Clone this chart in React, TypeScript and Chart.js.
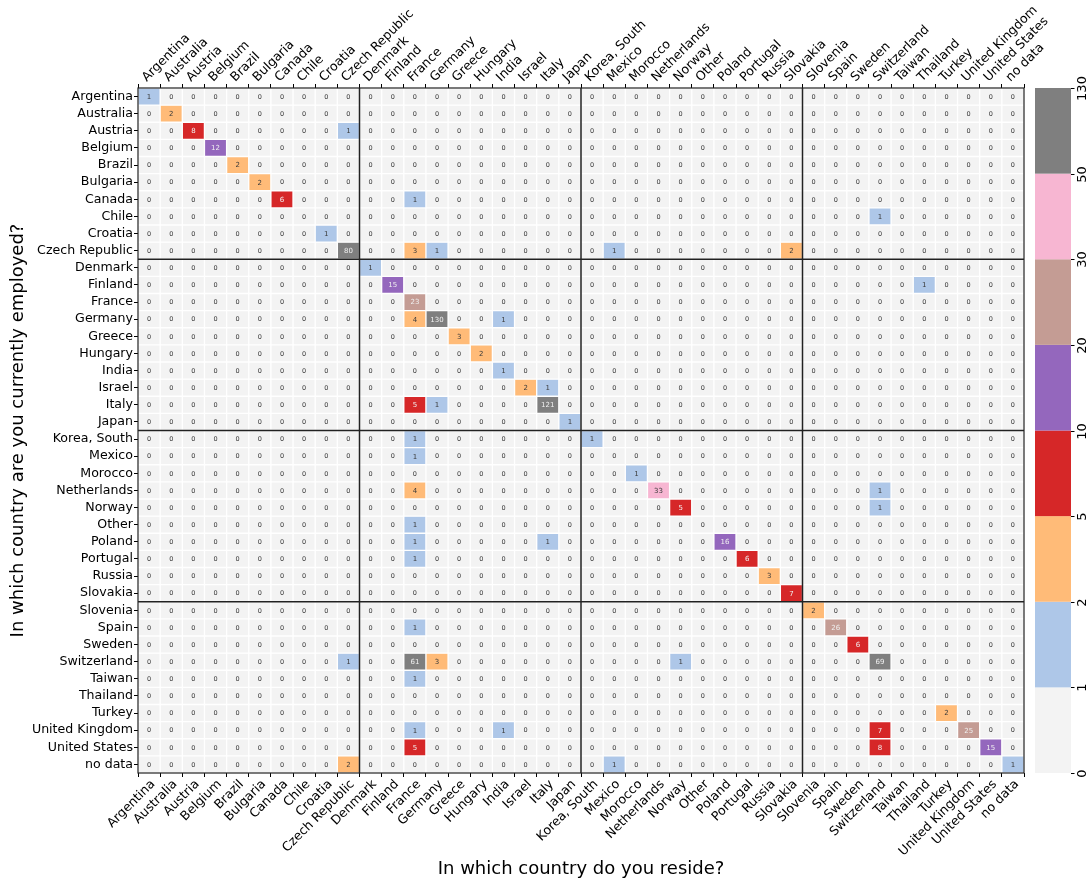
import React, { useEffect, useRef } from 'react';
import { Chart, registerables } from 'chart.js';
Chart.register(...registerables);

const countries = [
  'Argentina', 'Australia', 'Austria', 'Belgium', 'Brazil', 'Bulgaria', 'Canada', 'Chile', 'Croatia', 'Czech Republic',
  'Denmark', 'Finland', 'France', 'Germany', 'Greece', 'Hungary', 'India', 'Israel', 'Italy', 'Japan',
  'Korea, South', 'Mexico', 'Morocco', 'Netherlands', 'Norway', 'Other', 'Poland', 'Portugal', 'Russia', 'Slovakia',
  'Slovenia', 'Spain', 'Sweden', 'Switzerland', 'Taiwan', 'Thailand', 'Turkey', 'United Kingdom', 'United States', 'no data',
];

// Non-zero cells: employed-in country (row), reside-in country (column), count
const employedIn = [
  'Argentina', 'Australia', 'Austria', 'Austria', 'Belgium', 'Brazil', 'Bulgaria', 'Canada', 'Canada', 'Chile',
  'Croatia', 'Czech Republic', 'Czech Republic', 'Czech Republic', 'Czech Republic', 'Czech Republic', 'Denmark', 'Finland', 'Finland', 'France',
  'Germany', 'Germany', 'Germany', 'Greece', 'Hungary', 'India', 'Israel', 'Israel', 'Italy', 'Italy',
  'Italy', 'Japan', 'Korea, South', 'Korea, South', 'Mexico', 'Morocco', 'Netherlands', 'Netherlands', 'Netherlands', 'Norway',
  'Norway', 'Other', 'Poland', 'Poland', 'Poland', 'Portugal', 'Portugal', 'Russia', 'Slovakia', 'Slovenia',
  'Spain', 'Spain', 'Sweden', 'Switzerland', 'Switzerland', 'Switzerland', 'Switzerland', 'Switzerland', 'Taiwan', 'Turkey',
  'United Kingdom', 'United Kingdom', 'United Kingdom', 'United Kingdom', 'United States', 'United States', 'United States', 'no data', 'no data', 'no data',
];
const residesIn = [
  'Argentina', 'Australia', 'Austria', 'Czech Republic', 'Belgium', 'Brazil', 'Bulgaria', 'Canada', 'France', 'Switzerland',
  'Croatia', 'Czech Republic', 'France', 'Germany', 'Mexico', 'Slovakia', 'Denmark', 'Finland', 'Thailand', 'France',
  'France', 'Germany', 'India', 'Greece', 'Hungary', 'India', 'Israel', 'Italy', 'France', 'Germany',
  'Italy', 'Japan', 'Korea, South', 'France', 'France', 'Morocco', 'France', 'Netherlands', 'Switzerland', 'Norway',
  'Switzerland', 'France', 'France', 'Italy', 'Poland', 'France', 'Portugal', 'Russia', 'Slovakia', 'Slovenia',
  'France', 'Spain', 'Sweden', 'Czech Republic', 'France', 'Germany', 'Norway', 'Switzerland', 'France', 'Turkey',
  'France', 'India', 'Switzerland', 'United Kingdom', 'France', 'Switzerland', 'United States', 'Czech Republic', 'Mexico', 'no data',
];
const counts = [
  1, 2, 8, 1, 12, 2, 2, 6, 1, 1,
  1, 80, 3, 1, 1, 2, 1, 15, 1, 23,
  4, 130, 1, 3, 2, 1, 2, 1, 5, 1,
  121, 1, 1, 1, 1, 1, 4, 33, 1, 5,
  1, 1, 1, 1, 16, 1, 6, 3, 7, 2,
  1, 26, 6, 1, 61, 3, 1, 69, 1, 2,
  1, 1, 7, 25, 5, 8, 15, 2, 1, 1,
];

const binEdges = [0, 1, 2, 5, 10, 20, 30, 50, 130];
const binTickLabels = ['0', '1', '2', '5', '10', '20', '30', '50', '130'];
const binColors = ['#f3f3f3', '#aec7e8', '#ffbb78', '#d62728', '#9467bd', '#c49c94', '#f7b6d2', '#7f7f7f'];
const binTextLight = [false, false, false, true, true, true, false, true];

const FONT = "'DejaVu Sans', sans-serif";

function binIndex(v: number): number {
  let idx = 0;
  for (let i = 0; i < binColors.length; i++) {
    if (v >= binEdges[i]) idx = i;
  }
  return idx;
}

function buildMatrix(): number[][] {
  const m = countries.map(() => countries.map(() => 0));
  for (let k = 0; k < counts.length; k++) {
    const r = countries.indexOf(employedIn[k]);
    const c = countries.indexOf(residesIn[k]);
    m[r][c] = counts[k];
  }
  return m;
}

export default function App() {
  const ref = useRef<HTMLCanvasElement | null>(null);

  useEffect(() => {
    if (!ref.current) return;
    const matrix = buildMatrix();

    const datasets = countries.map((_, r) => ({
      label: countries[r],
      data: countries.map(() => [r - 0.5, r + 0.5]),
      backgroundColor: countries.map((_, c) => binColors[binIndex(matrix[r][c])]),
      borderColor: '#ffffff',
      borderWidth: 1,
      borderSkipped: false,
      grouped: false,
      categoryPercentage: 1,
      barPercentage: 1,
      xAxisID: 'x',
      yAxisID: 'y',
    }));

    const cellText = {
      id: 'cellText',
      afterDatasetsDraw(chart: any) {
        const { ctx, chartArea } = chart;
        const xs = chart.scales.x;
        const ys = chart.scales.y;
        ctx.save();
        ctx.textAlign = 'center';
        ctx.textBaseline = 'middle';
        for (let r = 0; r < countries.length; r++) {
          for (let c = 0; c < countries.length; c++) {
            const v = matrix[r][c];
            const b = binIndex(v);
            ctx.fillStyle = binTextLight[b] ? '#f0f0f0' : '#3a3a3a';
            ctx.font = `${v === 0 ? 6.5 : 7}px ${FONT}`;
            ctx.fillText(String(v), xs.getPixelForValue(c), ys.getPixelForValue(r) + 0.5);
          }
        }
        // group dividers
        ctx.strokeStyle = '#222';
        ctx.lineWidth = 1.5;
        for (const k of [10, 20, 30]) {
          const x = (xs.getPixelForValue(k - 1) + xs.getPixelForValue(k)) / 2;
          ctx.beginPath();
          ctx.moveTo(x, chartArea.top);
          ctx.lineTo(x, chartArea.bottom);
          ctx.stroke();
          const y = ys.getPixelForValue(k - 0.5);
          ctx.beginPath();
          ctx.moveTo(chartArea.left, y);
          ctx.lineTo(chartArea.right, y);
          ctx.stroke();
        }
        ctx.lineWidth = 1.2;
        ctx.strokeRect(chartArea.left, chartArea.top, chartArea.right - chartArea.left, chartArea.bottom - chartArea.top);
        ctx.restore();
      },
    };

    const colorBar = {
      id: 'colorBar',
      afterDraw(chart: any) {
        const { ctx, chartArea } = chart;
        const x0 = chartArea.right + 11;
        const w = 36;
        const top = chartArea.top;
        const bottom = chartArea.bottom;
        const n = binColors.length;
        const h = (bottom - top) / n;
        ctx.save();
        for (let i = 0; i < n; i++) {
          ctx.fillStyle = binColors[i];
          ctx.fillRect(x0, bottom - (i + 1) * h, w, h);
        }
        ctx.strokeStyle = '#000';
        ctx.lineWidth = 1;
        ctx.fillStyle = '#000';
        ctx.font = `13px ${FONT}`;
        ctx.textAlign = 'center';
        ctx.textBaseline = 'middle';
        for (let j = 0; j <= n; j++) {
          const y = Math.round(bottom - j * h) + 0.5;
          ctx.beginPath();
          ctx.moveTo(x0 + w, y);
          ctx.lineTo(x0 + w + 3.5, y);
          ctx.stroke();
          ctx.save();
          ctx.translate(x0 + w + 12, y);
          ctx.rotate(-Math.PI / 2);
          ctx.fillText(binTickLabels[j], 0, 0);
          ctx.restore();
        }
        ctx.restore();
      },
    };

    const tickFont = { family: FONT, size: 12.6 };
    const gridOpts = { display: true, drawOnChartArea: false, drawTicks: true, tickLength: 4, color: '#000' };

    const chart = new Chart(ref.current, {
      type: 'bar',
      data: { labels: countries, datasets: datasets as any },
      options: {
        animation: false,
        responsive: false,
        maintainAspectRatio: false,
        layout: { padding: { left: 0, right: 65, top: 0, bottom: 0 } },
        plugins: { legend: { display: false }, tooltip: { enabled: false } },
        scales: {
          x: {
            type: 'category',
            position: 'bottom',
            offset: true,
            grid: gridOpts,
            border: { display: false },
            ticks: { autoSkip: false, minRotation: 45, maxRotation: 45, color: '#000', font: tickFont, padding: 0, labelOffset: 4 },
            title: { display: true, text: 'In which country do you reside?', color: '#000', font: { family: FONT, size: 18 }, padding: { top: 0, bottom: 4 } },
            afterFit: (s: any) => { s.height = 111; },
          },
          x2: {
            type: 'category',
            position: 'top',
            labels: countries,
            offset: true,
            grid: gridOpts,
            border: { display: false },
            ticks: { autoSkip: false, minRotation: 45, maxRotation: 45, color: '#000', font: tickFont, padding: -1, labelOffset: 6 },
            afterFit: (s: any) => { s.height = 88; },
          },
          y: {
            type: 'linear',
            reverse: true,
            min: -0.5,
            max: 39.5,
            grid: gridOpts,
            border: { display: false },
            afterBuildTicks: (s: any) => { s.ticks = countries.map((_, i) => ({ value: i })); },
            ticks: {
              autoSkip: false,
              color: '#000',
              font: tickFont,
              padding: 1,
              callback: (v: any) => countries[Number(v)] ?? '',
            },
            title: { display: true, text: 'In which country are you currently employed?', color: '#000', font: { family: FONT, size: 18 }, padding: { top: 8, bottom: 0 } },
            afterFit: (s: any) => { s.width = 138; },
          },
        },
      } as any,
      plugins: [cellText, colorBar],
    });
    return () => chart.destroy();
  }, []);

  return (
    <div style={{ position: 'absolute', left: 0, top: 0, width: 1089, height: 884, background: '#fff' }}>
      <canvas ref={ref} width={1089} height={884} style={{ display: 'block', width: 1089, height: 884 }} />
    </div>
  );
}
